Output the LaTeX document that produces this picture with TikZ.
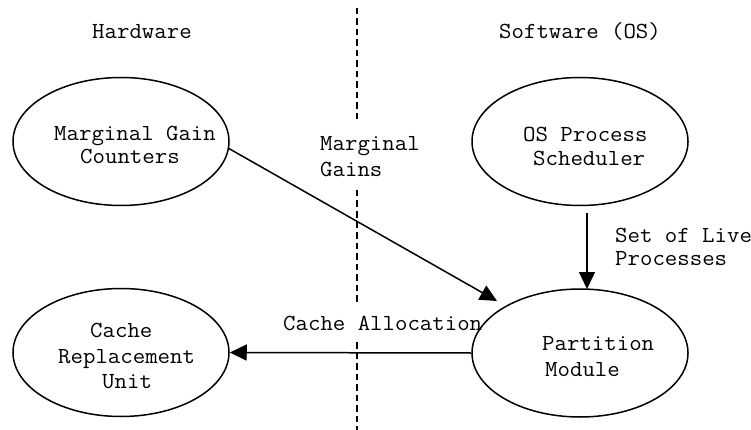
\documentclass[tikz,border=0pt]{standalone}
\usepackage{fontspec}
\newfontfamily\monofam[FakeStretch=1.05]{Latin Modern Mono}
\usetikzlibrary{shapes.geometric,arrows.meta}
\tikzset{
  blob/.style={ellipse,draw,line width=1.5pt,minimum width=216pt,minimum height=128pt,inner sep=0pt},
  txt/.style={inner sep=0pt,anchor=base west,font=\monofam\fontsize{23}{25}\selectfont},
  conn/.style={line width=1.5pt,-{Triangle[length=17pt,width=16pt]}},
  divider/.style={line width=1.3pt,dash pattern=on 6.5pt off 4pt}
}
\begin{document}
\begin{tikzpicture}[x=1pt,y=-1pt]
\useasboundingbox (0,0) rectangle (751,430);
% dashed divider
\coordinate (d1) at (357,8);
\coordinate (d2) at (357,122);
\coordinate (d3) at (357,190);
\coordinate (d4) at (357,302);
\coordinate (d5) at (357,342);
\coordinate (d6) at (357,432);
\draw[divider] (d1) -- (d2);
\draw[divider] (d3) -- (d4);
\draw[divider] (d5) -- (d6);
% headings
\node[txt] (hw) at (92,39) {Hardware};
\node[txt] (sw) at (499,39) {Software (OS)};
% ellipses
\node[blob] (mgc) at (121,141.5) {};
\node[blob] (osps) at (580,141.5) {};
\node[blob] (cru) at (121,352.5) {};
\node[blob] (pm) at (580,353) {};
% ellipse texts
\node[txt] (mgc1) at (54,141) {Marginal Gain};
\node[txt] (mgc2) at (80,164) {Counters};
\node[txt] (osps1) at (523,142) {OS Process};
\node[txt] (osps2) at (533,166) {Scheduler};
\node[txt] (cru1) at (90,337) {Cache};
\node[txt] (cru2) at (58,363) {Replacement};
\node[txt] (cru3) at (102,388) {Unit};
\node[txt] (pm1) at (542,350) {Partition};
\node[txt] (pm2) at (545,376) {Module};
% connector labels
\node[txt] (mg1) at (320,151) {Marginal};
\node[txt] (mg2) at (320,177) {Gains};
\node[txt] (sl1) at (615,242) {Set of Live};
\node[txt] (sl2) at (615,265) {Processes};
\node[txt] (ca) at (283,330) {Cache Allocation};
% connectors
\coordinate (s1) at (228,148);
\coordinate (t1) at (497,301);
\draw[conn] (s1) -- (t1);
\coordinate (s2) at (587,213);
\coordinate (t2) at (587,289);
\draw[conn] (s2) -- (t2);
\draw[conn] (pm.west) -- (cru.east);
\end{tikzpicture}
\end{document}
